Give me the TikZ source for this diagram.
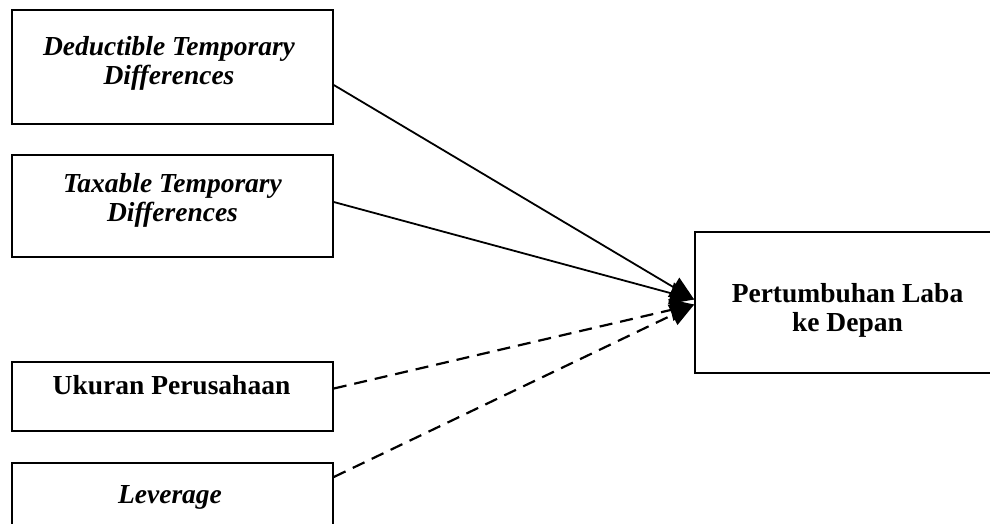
\documentclass[tikz,border=0pt]{standalone}
\usepackage{fontspec}
\setmainfont{Liberation Serif}
\usetikzlibrary{arrows.meta}

\begin{document}
\begin{tikzpicture}[x=1pt, y=-1pt,
    box/.style={draw, line width=1.6pt, minimum width=321pt, inner sep=0pt},
    lbl/.style={font=\fontsize{27.5}{29}\selectfont\bfseries, align=center, inner sep=0pt},
    link/.style={line width=1.8pt, -{Triangle[length=24pt,width=22pt]}},
    dashlink/.style={link, line width=2.2pt, dash pattern=on 13pt off 8pt}]
    \useasboundingbox (0,0) rectangle (990,523);
    \clip (0,0) rectangle (990,523);

    % Independent and control variables
    \node[box, minimum height=114pt] (dtd) at (172.5,67) {};
    \node[lbl] (dtdtext) at (169,63) {\itshape Deductible Temporary\\ \itshape Differences};
    \node[box, minimum height=102pt] (ttd) at (172.5,206) {};
    \node[lbl] (ttdtext) at (172.5,200.5) {\itshape Taxable Temporary\\ \itshape Differences};
    \node[box, minimum height=69pt] (size) at (172.5,396.5) {};
    \node[lbl] (sizetext) at (171.5,385.5) {Ukuran Perusahaan};
    \node[box, minimum height=100pt] (lev) at (172.5,513) {};
    \node[lbl] (levtext) at (170,497) {\itshape Leverage};

    % Dependent variable
    \node[box, minimum width=305pt, minimum height=141pt] (growth) at (847.5,302.5) {};
    \node[lbl] (growthtext) at (847.5,310) {Pertumbuhan Laba\\ke Depan};

    % Connectors
    \draw[link] ([yshift=-18pt]dtd.east) -- ([yshift=3pt]growth.west);
    \draw[link] ([yshift=4pt]ttd.east) -- ([yshift=3pt]growth.west);
    \draw[dashlink] ([yshift=8pt]size.east) -- ([yshift=-2pt]growth.west);
    \draw[dashlink] ([yshift=36pt]lev.east) -- ([yshift=-2pt]growth.west);
\end{tikzpicture}
\end{document}
